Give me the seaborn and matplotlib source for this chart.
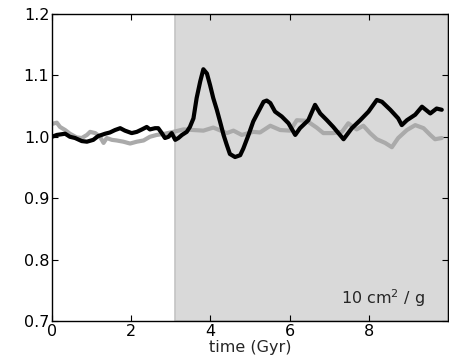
import numpy as np
import pandas as pd
import matplotlib
matplotlib.use("Agg")
import matplotlib.pyplot as plt
import seaborn as sns

# black curve
t_black = [0.00, 0.12, 0.33, 0.45, 0.58, 0.75, 0.88, 1.04, 1.16, 1.34, 1.46, 1.59,
           1.72, 1.84, 2.01, 2.14, 2.27, 2.39, 2.47, 2.60, 2.68, 2.77, 2.85, 2.94,
           3.02, 3.11, 3.19, 3.28, 3.40, 3.48, 3.57, 3.65, 3.74, 3.82, 3.91, 3.99,
           4.07, 4.16, 4.24, 4.33, 4.41, 4.49, 4.62, 4.75, 4.83, 4.96, 5.08, 5.21,
           5.34, 5.42, 5.51, 5.63, 5.80, 5.97, 6.14, 6.26, 6.47, 6.64, 6.77, 6.94,
           7.10, 7.36, 7.57, 7.78, 7.99, 8.20, 8.33, 8.54, 8.74, 8.83, 8.96, 9.17,
           9.34, 9.55, 9.71, 9.84]
v_black = [1.000, 1.003, 1.005, 1.000, 0.998, 0.993, 0.992, 0.995, 1.001, 1.005, 1.007, 1.011,
           1.014, 1.010, 1.006, 1.008, 1.012, 1.016, 1.012, 1.014, 1.014, 1.006, 0.998, 1.000,
           1.006, 0.995, 0.998, 1.003, 1.008, 1.016, 1.030, 1.063, 1.090, 1.110, 1.103, 1.084,
           1.063, 1.044, 1.025, 1.003, 0.987, 0.972, 0.967, 0.970, 0.981, 1.003, 1.025, 1.041,
           1.057, 1.059, 1.055, 1.041, 1.033, 1.022, 1.003, 1.014, 1.027, 1.052, 1.038, 1.027,
           1.016, 0.996, 1.014, 1.027, 1.041, 1.060, 1.057, 1.044, 1.030, 1.019, 1.027, 1.036,
           1.049, 1.038, 1.046, 1.044]

# gray curve
t_gray = [0.00, 0.12, 0.20, 0.33, 0.45, 0.62, 0.75, 0.88, 0.96, 1.09, 1.21, 1.30,
          1.38, 1.51, 1.63, 1.80, 1.97, 2.14, 2.31, 2.47, 2.64, 2.85, 3.06, 3.32,
          3.57, 3.82, 4.07, 4.41, 4.58, 4.79, 5.08, 5.25, 5.51, 5.76, 6.01, 6.18,
          6.43, 6.68, 6.85, 7.10, 7.32, 7.48, 7.69, 7.86, 8.03, 8.20, 8.41, 8.58,
          8.74, 8.96, 9.17, 9.38, 9.55, 9.67, 9.84]
v_gray = [1.021, 1.023, 1.016, 1.011, 1.005, 0.999, 0.998, 1.003, 1.008, 1.006, 1.000, 0.990,
          0.998, 0.995, 0.994, 0.992, 0.989, 0.992, 0.994, 1.000, 1.003, 1.005, 1.008, 1.012,
          1.011, 1.010, 1.015, 1.006, 1.010, 1.003, 1.008, 1.007, 1.018, 1.011, 1.010, 1.027,
          1.026, 1.015, 1.006, 1.006, 1.008, 1.022, 1.012, 1.018, 1.006, 0.996, 0.990, 0.983,
          0.998, 1.011, 1.019, 1.014, 1.003, 0.996, 0.998]

shade_start = 3.1
x_ticks = [0, 2, 4, 6, 8]
y_ticks = [0.7, 0.8, 0.9, 1.0, 1.1, 1.2]
label_text = "10 cm$^2$ / g"

sns.set_style("ticks", {"xtick.direction": "in", "ytick.direction": "in"})
plt.rcParams['font.family'] = ['DejaVu Sans']
plt.rcParams['mathtext.default'] = 'regular'

fig = plt.figure(figsize=(4.49, 3.59), dpi=100)
ax = fig.add_axes([0.116, 0.106, 0.882, 0.855])

ax.axvspan(shade_start, 10, facecolor='#d9d9d9', edgecolor='#c4c4c4', lw=1.2, zorder=0)

df_gray = pd.DataFrame({'t': t_gray, 'v': v_gray})
df_black = pd.DataFrame({'t': t_black, 'v': v_black})
sns.lineplot(data=df_gray, x='t', y='v', color='#aaaaaa', lw=3, ax=ax)
sns.lineplot(data=df_black, x='t', y='v', color='black', lw=3, ax=ax)

ax.set_xlim(0, 10)
ax.set_ylim(0.7, 1.2)
ax.set_xticks(x_ticks)
ax.set_yticks(y_ticks)
ax.set_xticklabels([str(x) for x in x_ticks])
ax.set_yticklabels(['%.1f' % y for y in y_ticks])
ax.tick_params(top=True, right=True, labelsize=11.5, length=4, width=0.8,
               pad=2, colors='black')
ax.set_xlabel('time (Gyr)', fontsize=11.5, labelpad=1)
ax.set_ylabel('')
for s in ax.spines.values():
    s.set_linewidth(1.0)
    s.set_color('black')

ax.text(7.3, 0.737, label_text, fontsize=11.5, va='center', ha='left')

fig.savefig('out.png', dpi=100)
